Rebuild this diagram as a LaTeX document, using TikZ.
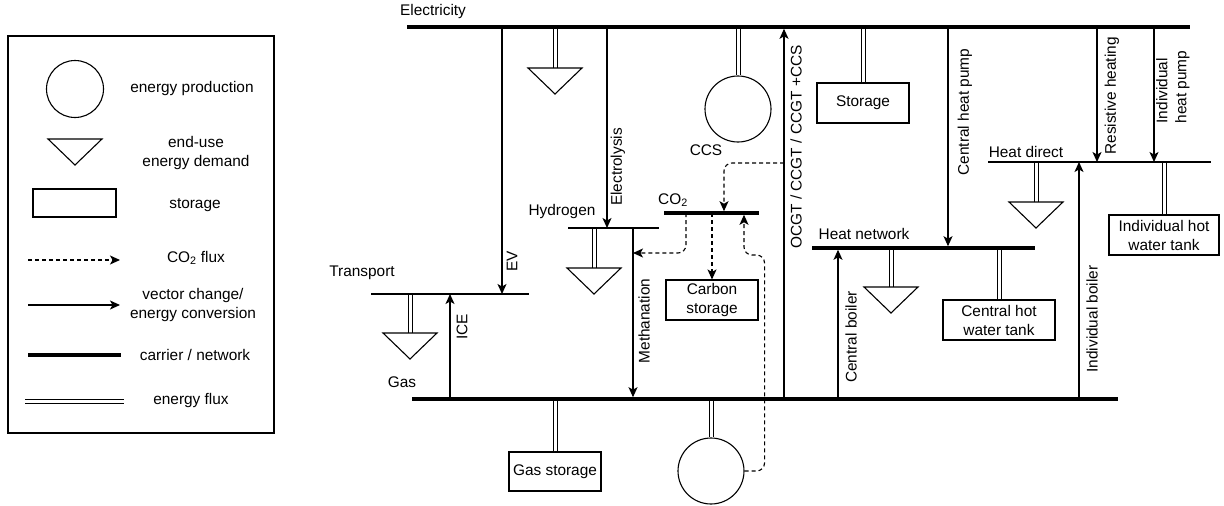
\documentclass[tikz,border=0pt]{standalone}
\usepackage{fontspec}
\setmainfont{Liberation Sans}
\usetikzlibrary{arrows.meta}

\tikzset{
  bus/.style={line width=3.6pt},
  subbus/.style={line width=1.1pt},
  conv/.style={line width=1.1pt,-{Stealth[length=10pt,width=9pt,inset=2.5pt]}},
  tobus/.style={shorten >=1.8pt},
  coflux/.style={conv,dash pattern=on 4pt off 3pt,rounded corners=8pt},
  flux/.style={double,double distance=3pt,line width=1pt},
  prod/.style={circle,draw,line width=1.1pt,minimum size=66pt,inner sep=0pt},
  store/.style={draw,line width=1.1pt,minimum width=92pt,minimum height=40pt,inner sep=0pt,align=center},
  lbl/.style={inner sep=0pt,align=center},
  vlbl/.style={lbl,rotate=90},
  demand/.pic={\draw[line width=1.1pt] (-27,0) -- (27,0) -- (0,26) -- cycle;}
}

\begin{document}
\begin{tikzpicture}[x=1pt,y=-1pt,font=\fontsize{15.4}{19}\selectfont]
\useasboundingbox (0,0) rectangle (1224,506);

% legend
\node[draw,line width=1.1pt,minimum width=266pt,minimum height=397pt,inner sep=0pt] (legend) at (141,234.5) {};
\node[prod,minimum size=57pt] (lgprod) at (75,89) {};
\node[lbl] (lgprodT) at (192,89) {energy production};
\pic at (75,139) {demand};
\node[lbl] (lgdemT) at (196,153) {end-use\\energy demand};
\node[store,minimum width=83pt,minimum height=28pt] (lgstore) at (74.5,203) {};
\node[lbl] (lgstoreT) at (195,205) {storage};
\coordinate (lgcoA) at (28,260); \coordinate (lgcoB) at (120,260);
\draw[coflux] (lgcoA) -- (lgcoB);
\node[lbl] (lgcoT) at (196,258) {CO\textsubscript{2} flux};
\coordinate (lgconvA) at (28,305); \coordinate (lgconvB) at (120,305);
\draw[conv] (lgconvA) -- (lgconvB);
\node[lbl] (lgconvT) at (193,305) {vector change/\\energy conversion};
\coordinate (lgbusA) at (28,355); \coordinate (lgbusB) at (121,355);
\draw[bus] (lgbusA) -- (lgbusB);
\node[lbl] (lgbusT) at (195,355) {carrier / network};
\coordinate (lgfluxA) at (25,401); \coordinate (lgfluxB) at (124,401);
\draw[flux] (lgfluxA) -- (lgfluxB);
\node[lbl] (lgfluxT) at (191,401) {energy flux};

% carriers
\coordinate (elecL) at (407,27);  \coordinate (elecR) at (1190,27);
\coordinate (gasL) at (412,399);  \coordinate (gasR) at (1118,399);
\coordinate (trL) at (371,294);   \coordinate (trR) at (529,294);
\coordinate (h2L) at (568,228);   \coordinate (h2R) at (659,228);
\coordinate (co2L) at (664,213);  \coordinate (co2R) at (759,213);
\coordinate (hnL) at (812,248);   \coordinate (hnR) at (1035,248);
\coordinate (hdL) at (988,162);   \coordinate (hdR) at (1211,162);

\node[lbl] (elecT) at (433,12) {Electricity};
\node[lbl] (gasT) at (402,382) {Gas};
\node[lbl] (trT) at (362,273) {Transport};
\node[lbl] (h2T) at (562,212) {Hydrogen};
\node[lbl] (co2T) at (673,200) {CO\textsubscript{2}};
\node[lbl] (hnT) at (864,234) {Heat network};
\node[lbl] (hdT) at (1026,152) {Heat direct};

% production, storage, demand
\node[prod] (ccs) at (738,109) {};
\node[lbl] (ccsT) at (706,150) {CCS};
\draw[flux] (ccs.north) -- (ccs.north |- elecL);
\node[prod] (gasprod) at (711,471) {};
\draw[flux] (gasprod.north) -- (gasprod.north |- gasL);

\node[store] (elecstore) at (863,103) {Storage};
\draw[flux] (elecstore.north) -- (elecstore.north |- elecL);
\node[store,minimum height=39pt] (gasstore) at (555,471.5) {Gas storage};
\draw[flux] (gasstore.north) -- (gasstore.north |- gasL);
\node[store] (cstore) at (712,300) {Carbon\\storage};
\node[store,minimum width=112pt] (chwt) at (999,320) {Central hot\\water tank};
\draw[flux] (chwt.north) -- (chwt.north |- hnL);
\node[store,minimum width=110pt] (ihwt) at (1164,235) {Individual hot\\water tank};
\draw[flux] (ihwt.north) -- (ihwt.north |- hdL);

\coordinate (elecdem) at (555,68);
\coordinate (trdem) at (410,333);
\coordinate (h2dem) at (594,268);
\coordinate (hndem) at (891,287);
\coordinate (hddem) at (1036,202);
\foreach \d/\b in {elecdem/elecL,trdem/trL,h2dem/h2L,hndem/hnL,hddem/hdL}{
  \draw[flux] (\d) -- (\d |- \b);
  \pic at (\d) {demand};
}

% conversions
\coordinate (ev) at (502,27);
\draw[conv] (ev) -- (ev |- trL);
\node[vlbl] (evT) at (512,261) {EV};
\coordinate (ely) at (607,27);
\draw[conv] (ely) -- (ely |- h2L);
\node[vlbl] (elyT) at (618,167) {Electrolysis};
\coordinate (ice) at (450,399);
\draw[conv] (ice) -- (ice |- trL);
\node[vlbl] (iceT) at (462,327) {ICE};
\coordinate (meth) at (633,228);
\draw[conv,tobus] (meth) -- (meth |- gasL);
\node[vlbl] (methT) at (644,321) {Methanation};
\coordinate (ocgt) at (784,399);
\draw[conv,tobus] (ocgt) -- (ocgt |- elecL);
\node[vlbl] (ocgtT) at (796,147) {OCGT / CCGT / CCGT +CCS};
\coordinate (cboil) at (838,399);
\draw[conv,tobus] (cboil) -- (cboil |- hnL);
\node[vlbl] (cboilT) at (851,337) {Central boiler};
\coordinate (chp) at (948,27);
\draw[conv,tobus] (chp) -- (chp |- hnL);
\node[vlbl] (chpT) at (965,112) {Central heat pump};
\coordinate (resh) at (1097,27);
\draw[conv] (resh) -- (resh |- hdL);
\node[vlbl] (reshT) at (1112,96) {Resistive heating};
\coordinate (ihp) at (1154,27);
\draw[conv] (ihp) -- (ihp |- hdL);
\node[vlbl,align=left] (ihpT) at (1173,87) {Individual\\heat pump};
\coordinate (iboil) at (1079,399);
\draw[conv] (iboil) -- (iboil |- hdL);
\node[vlbl] (iboilT) at (1092,319) {Individual boiler};

% CO2 fluxes
\coordinate (ccsout) at (784,163);
\coordinate (co2in) at (724,213);
\draw[coflux,tobus] (ccsout) -| (co2in);
\coordinate (co2meth) at (686,213);
\coordinate (methin) at (633,253);
\draw[coflux] (co2meth) |- (methin);
\draw[coflux] (cstore.north |- co2L) -- (cstore.north);
\coordinate (co2gas) at (744,213);
\draw[coflux,tobus] (gasprod.east) -- ++(20,0) -- ++(0,-216) -| (co2gas);

% carrier lines on top
\draw[bus] (elecL) -- (elecR);
\draw[bus] (gasL) -- (gasR);
\draw[bus] (co2L) -- (co2R);
\draw[bus] (hnL) -- (hnR);
\draw[subbus] (trL) -- (trR);
\draw[subbus] (h2L) -- (h2R);
\draw[subbus] (hdL) -- (hdR);
\end{tikzpicture}
\end{document}
